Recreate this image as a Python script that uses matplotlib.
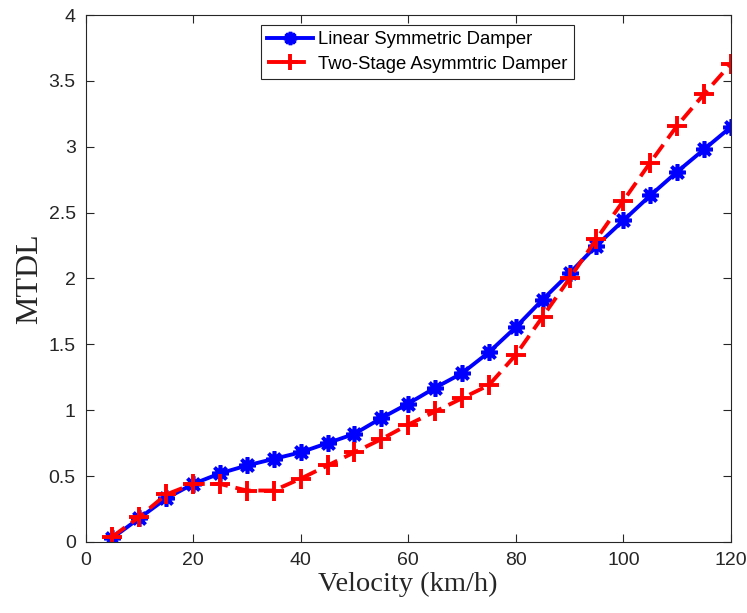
#!/usr/bin/env python3
"""MTDL vs velocity for the two damper configurations."""

import matplotlib

matplotlib.use("Agg")
import matplotlib.pyplot as plt

velocity = [5, 10, 15, 20, 25, 30, 35, 40, 45, 50, 55, 60,
            65, 70, 75, 80, 85, 90, 95, 100, 105, 110, 115, 120]
mtdl_linear = [0.03, 0.18, 0.33, 0.44, 0.52, 0.58, 0.63, 0.68, 0.75, 0.82, 0.94, 1.05,
               1.17, 1.28, 1.44, 1.63, 1.84, 2.04, 2.25, 2.44, 2.63, 2.81, 2.98, 3.15]
mtdl_two_stage = [0.04, 0.19, 0.36, 0.44, 0.44, 0.39, 0.39, 0.48, 0.58, 0.68, 0.78, 0.89,
                  0.99, 1.09, 1.19, 1.42, 1.71, 2.00, 2.30, 2.59, 2.88, 3.16, 3.40, 3.63]

x_ticks = [0, 20, 40, 60, 80, 100, 120]
y_ticks = [0, 0.5, 1, 1.5, 2, 2.5, 3, 3.5, 4]
y_tick_labels = ["0", "0.5", "1", "1.5", "2", "2.5", "3", "3.5", "4"]


def main() -> int:
    plt.rcParams["font.family"] = ["Liberation Sans", "DejaVu Sans"]
    fig = plt.figure(figsize=(7.47, 6.13), dpi=100)
    ax = fig.add_axes((0.1145, 0.116, 0.864, 0.8595))

    ax.plot(velocity, mtdl_linear, color="#0000ff", linewidth=2.8, linestyle="-",
            marker=(8, 2, 0), markersize=12, markeredgewidth=2.6,
            label="Linear Symmetric Damper")
    ax.plot(velocity, mtdl_two_stage, color="#ff0000", linewidth=2.8, linestyle=(0, (4, 2)),
            marker="+", markersize=14, markeredgewidth=2.8,
            label="Two-Stage Asymmtric Damper")

    ax.set_xlim(0, 120)
    ax.set_ylim(0, 4)
    ax.set_xticks(x_ticks)
    ax.set_yticks(y_ticks)
    ax.set_yticklabels(y_tick_labels)
    ax.tick_params(direction="in", length=6, width=0.8, colors="#262626",
                   labelsize=14, top=True, right=True, pad=7)
    for label in ax.get_xticklabels() + ax.get_yticklabels():
        label.set_color("#262626")
    for spine in ax.spines.values():
        spine.set_color("#262626")
        spine.set_linewidth(0.8)

    ax.set_xlabel("Velocity (km/h)", family="Liberation Serif", fontsize=20.5, color="#262626", labelpad=2)
    ax.set_ylabel("MTDL", family="Liberation Serif", fontsize=23, color="#262626", labelpad=3)

    leg = ax.legend(loc="upper left", bbox_to_anchor=(0.2715, 0.981), borderaxespad=0,
                    fontsize=13.3, fancybox=False, framealpha=1, edgecolor="#262626",
                    borderpad=0.35, labelspacing=0.4, handlelength=2.5, handletextpad=0.25,
                    markerscale=0.8)
    leg.get_frame().set_linewidth(0.8)

    fig.savefig("out.png", dpi=100)
    return 0


if __name__ == "__main__":
    raise SystemExit(main())
